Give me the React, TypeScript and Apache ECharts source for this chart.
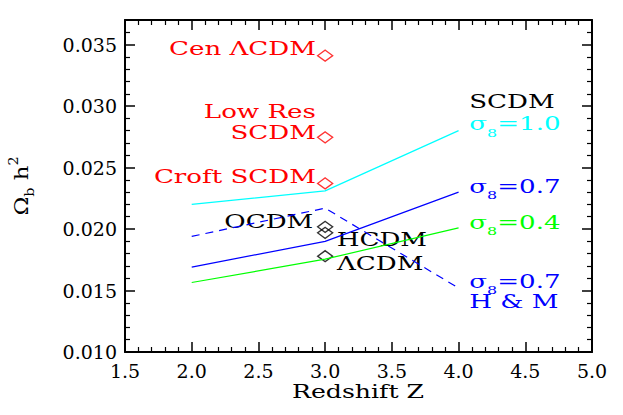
import React, { useEffect, useRef } from "react";
import * as echarts from "echarts";

// ---- data ----
const redshift = [2.0, 3.0, 4.0];
const scdmSigma10 = [0.022, 0.0231, 0.028];
const scdmSigma07 = [0.0169, 0.019, 0.023];
const scdmSigma04 = [0.01565, 0.01755, 0.0201];
const hmSigma07 = [0.0194, 0.0217, 0.0152];

const simZ = 3.0;
const redModels = ["Cen ΛCDM", "Low Res SCDM", "Croft SCDM"];
const redValues = [0.0341, 0.02746, 0.02371];
const blackModels = ["OCDM", "HCDM", "ΛCDM"];
const blackValues = [0.02018, 0.01969, 0.01779];

const xTicks = [1.5, 2.0, 2.5, 3.0, 3.5, 4.0, 4.5, 5.0];
const yTicks = [0.01, 0.015, 0.02, 0.025, 0.03, 0.035];

const RED = "#ff0000";
const CYAN = "#00ffff";
const BLUE = "#0000ff";
const GREEN = "#00ff00";
const BLACK = "#000000";
const FONT = "DejaVu Serif";

// annotation anchors (data coordinates): edge x, centre y
const annotations = [
  { text: "{s|Cen ΛCDM}", x: 2.931, y: 0.03471, align: "right", color: RED },
  { text: "{s|Low Res}", x: 2.931, y: 0.02954, align: "right", color: RED },
  { text: "{s|SCDM}", x: 2.931, y: 0.02783, align: "right", color: RED },
  { text: "{s|Croft SCDM}", x: 2.931, y: 0.02425, align: "right", color: RED },
  { text: "{s|OCDM}", x: 2.911, y: 0.02059, align: "right", color: BLACK },
  { text: "{s|HCDM}", x: 3.087, y: 0.01914, align: "left", color: BLACK },
  { text: "{s|ΛCDM}", x: 3.089, y: 0.01722, align: "left", color: BLACK },
  { text: "{s|SCDM}", x: 4.08, y: 0.03033, align: "left", color: BLACK },
  { text: "{s|σ}{sub|8}{s|=1.0}", x: 4.08, y: 0.02854, align: "left", color: CYAN },
  { text: "{s|σ}{sub|8}{s|=0.7}", x: 4.08, y: 0.02349, align: "left", color: BLUE },
  { text: "{s|σ}{sub|8}{s|=0.4}", x: 4.08, y: 0.0205, align: "left", color: GREEN },
  { text: "{s|σ}{sub|8}{s|=0.7}", x: 4.08, y: 0.0157, align: "left", color: BLUE },
  { text: "{s|H & M}", x: 4.08, y: 0.01407, align: "left", color: BLUE },
];

const pairs = (ys: number[]) => redshift.map((x, i) => [x, ys[i]]);

export default function App() {
  const ref = useRef<HTMLDivElement>(null);
  useEffect(() => {
    if (!ref.current) return;
    const chart = echarts.init(ref.current, undefined, { renderer: "svg" });
    const axisCommon = {
      type: "value" as const,
      axisLine: { show: true, onZero: false, lineStyle: { color: BLACK, width: 2 } },
      axisTick: { show: true, inside: true, length: 10, lineStyle: { color: BLACK, width: 1.5 } },
      minorTick: { show: true, splitNumber: 5, length: 5, lineStyle: { color: BLACK, width: 1.2 } },
      splitLine: { show: false },
    };
    const xAx = (pos: "bottom" | "top", labels: boolean) => ({
      ...axisCommon,
      position: pos,
      min: xTicks[0],
      max: xTicks[xTicks.length - 1],
      interval: 0.5,
      axisLabel: {
        show: labels,
        margin: 9,
        color: BLACK,
        fontFamily: FONT,
        fontSize: 19,
        formatter: (v: number) => v.toFixed(1),
      },
    });
    const yAx = (pos: "left" | "right", labels: boolean) => ({
      ...axisCommon,
      position: pos,
      min: yTicks[0],
      max: 0.037,
      interval: 0.005,
      axisLabel: {
        show: labels,
        margin: 8,
        color: BLACK,
        fontFamily: FONT,
        fontSize: 19,
        showMaxLabel: false,
        formatter: (v: number) => (yTicks.some((t) => Math.abs(t - v) < 1e-9) ? v.toFixed(3) : ""),
      },
    });
    const lineSeries = (ys: number[], color: string, dashed = false) => ({
      type: "line" as const,
      data: pairs(ys),
      symbol: "none",
      lineStyle: { color, width: 1.2, type: dashed ? [8, 6] : "solid" },
      silent: true,
    });
    const scatter = (vals: number[], color: string) => ({
      type: "scatter" as const,
      data: vals.map((v) => [simZ, v]),
      symbol: "diamond",
      symbolSize: [15, 11],
      itemStyle: { color: "rgba(255,255,255,0)", borderColor: color, borderWidth: 1.4 },
      silent: true,
    });
    chart.setOption({
      animation: false,
      backgroundColor: "#ffffff",
      grid: { left: 125, right: 31, top: 20, bottom: 63, containLabel: false },
      xAxis: [xAx("bottom", true), xAx("top", false)],
      yAxis: [yAx("left", true), yAx("right", false)],
      series: [
        lineSeries(scdmSigma10, CYAN),
        lineSeries(scdmSigma07, BLUE),
        lineSeries(scdmSigma04, GREEN),
        lineSeries(hmSigma07, BLUE, true),
        scatter(redValues, RED),
        scatter(blackValues, BLACK),
      ],
    });

    const graphics: any[] = annotations.map((a) => {
      const [px, py] = chart.convertToPixel({ xAxisIndex: 0, yAxisIndex: 0 }, [a.x, a.y]) as number[];
      return {
        type: "text",
        x: px,
        y: py,
        scaleX: 1.45,
        silent: true,
        style: {
          text: a.text,
          align: a.align,
          verticalAlign: "middle",
          fill: a.color,
          rich: {
            s: { fontFamily: FONT, fontSize: 18, fill: a.color, lineHeight: 20 },
            sub: { fontFamily: FONT, fontSize: 11, fill: a.color, verticalAlign: "bottom", lineHeight: 28 },
          },
        },
      };
    });
    graphics.push({
      type: "text",
      x: 358,
      y: 392,
      scaleX: 1.4,
      silent: true,
      style: { text: "Redshift Z", align: "center", verticalAlign: "middle", fill: BLACK, fontFamily: FONT, fontSize: 18 },
    });
    graphics.push({
      type: "text",
      x: 22,
      y: 186,
      rotation: Math.PI / 2,
      scaleX: 1.2,
      silent: true,
      style: {
        text: "{s|Ω}{sub|b}{s| h}{sup|2}",
        align: "center",
        verticalAlign: "middle",
        fill: BLACK,
        rich: {
          s: { fontFamily: FONT, fontSize: 19, fill: BLACK, lineHeight: 20 },
          sub: { fontFamily: FONT, fontSize: 12, fill: BLACK, verticalAlign: "bottom", lineHeight: 28 },
          sup: { fontFamily: FONT, fontSize: 12, fill: BLACK, verticalAlign: "top", lineHeight: 28 },
        },
      },
    });
    chart.setOption({ graphic: graphics });
    return () => chart.dispose();
  }, []);
  return <div ref={ref} style={{ position: "fixed", left: 0, top: 0, width: 623, height: 415 }} />;
}
